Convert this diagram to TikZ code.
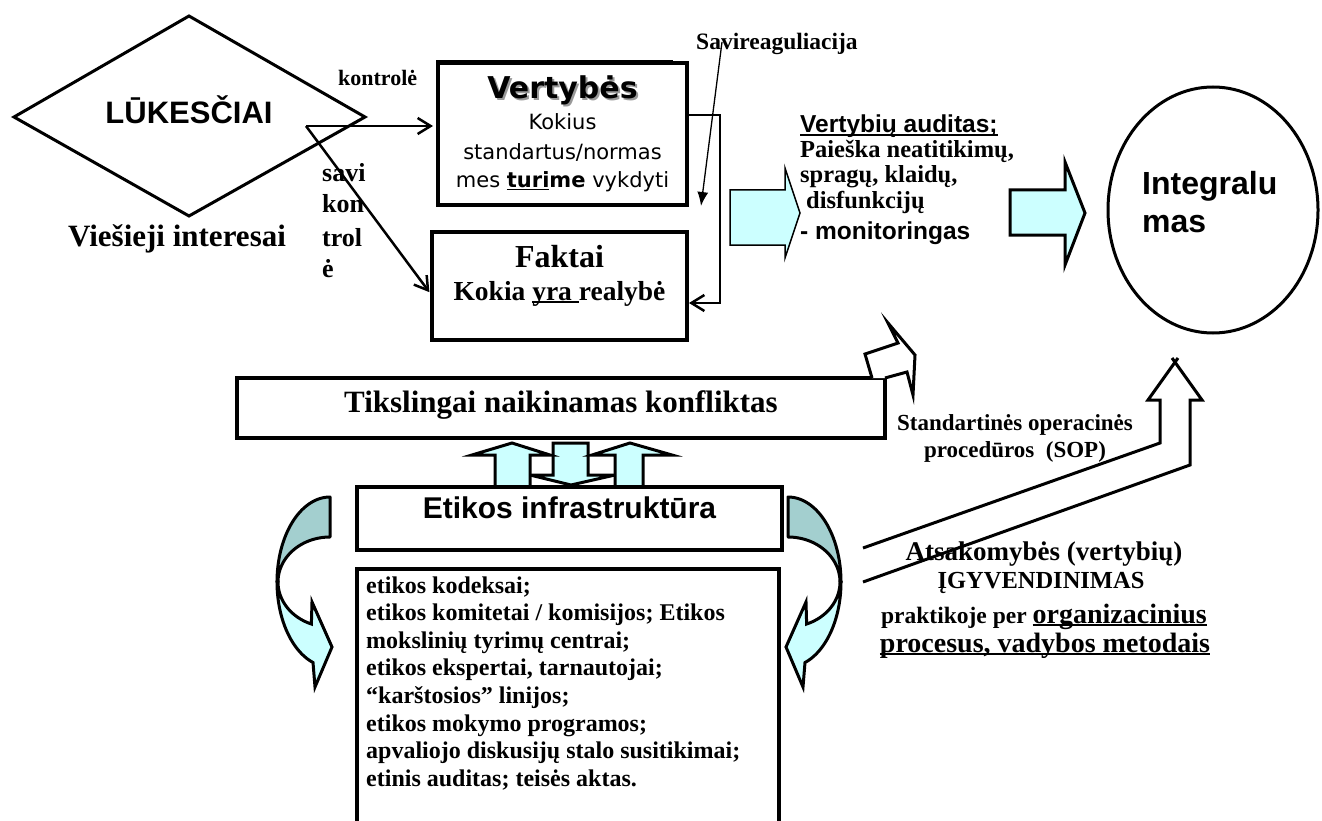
\documentclass[tikz,border=0pt]{standalone}
\usepackage{fontspec}
\setmainfont{Liberation Serif}
\newfontfamily\arialfont{Liberation Sans}
\newfontfamily\verdfont{DejaVu Sans}
\usetikzlibrary{arrows.meta,shapes.geometric}
\definecolor{pale}{HTML}{CCFFFF}
\definecolor{ribbon}{HTML}{A3CFCF}
\newcommand\fsz[1]{\fontsize{#1pt}{#1pt}\selectfont}
% thick underline scaled to the current font
\newcommand\ulb[1]{\setbox0=\hbox{#1}\rlap{\rule[-0.11em]{\wd0}{0.065em}}\box0}
% curved ribbon arrow (left-hand version; mirrored for the right side)
\newcommand\ribbonarrow{%
  \path[draw, fill=pale, line width=3pt, line join=miter]
    plot[domain=180:108.7, samples=40] ({330+53*cos(\x)},{582+85*sin(\x)})
    -- (315,687) -- (332,647) -- (312,602)
    -- plot[domain=111:180, samples=40] ({330+52*cos(\x)},{582+45*sin(\x)}) -- cycle;
  \path[draw, fill=ribbon, line width=3pt, line join=round]
    plot[domain=270:180, samples=40] ({330+53*cos(\x)},{582+85*sin(\x)})
    -- plot[domain=180:270, samples=40] ({330+52*cos(\x)},{582+45*sin(\x)}) -- cycle;
}

\begin{document}
\begin{tikzpicture}[x=1pt,y=-1pt,
  lbl/.style={inner sep=0pt, anchor=base},
  lblw/.style={inner sep=0pt, anchor=base west},
  box/.style={draw, line width=3.5pt, fill=white, inner sep=0pt},
  conn/.style={line width=2.5pt, -{Straight Barb[length=13pt,width=16pt]}},
  blockarrow/.style={draw, fill=pale, line width=3pt, line join=miter},
  outline/.style={draw, line width=3pt, line join=miter},
]
\useasboundingbox (0,0) rectangle (1322,821);

% ---- expectations diamond
\draw[outline] (14,117) -- (189,16) -- (365,117) -- (189,216) -- cycle;
\node[lbl, font=\arialfont\fsz{31}\bfseries] (luk) at (189,124) {LŪKESČIAI};
\node[lbl, font=\fsz{31}\bfseries] (vies) at (177,246) {Viešieji interesai};

% ---- values and facts
\node[box, line width=4pt, minimum width=249pt, minimum height=142pt] (vert) at (562.5,134) {};
\draw[line width=3pt] (436,61.5) -- (673,61.5);
\node[box, line width=4pt, minimum width=255pt, minimum height=108pt] (fakt) at (559.5,286) {};

\node[lbl, text=black!40, font=\verdfont\fsz{30}\bfseries] (vshadow) at (564.5,101) {Vertybės};
\node[lbl, font=\verdfont\fsz{30}\bfseries] (vtitle) at (562.5,99) {Vertybės};
\node[lbl, font=\verdfont\fsz{21}] (v1) at (562.5,130) {Kokius};
\node[lbl, font=\verdfont\fsz{21}] (v2) at (562.5,160) {standartus/normas};
\node[lbl, font=\verdfont\fsz{21}] (v3) at (562.5,188) {mes \textbf{\ulb{turi}me} vykdyti};

\node[lbl, font=\fsz{32}\bfseries] (f0) at (559.5,267) {Faktai};
\node[lbl, font=\fsz{27.5}\bfseries] (f1) at (559.5,300) {Kokia \ulb{yra\ }realybė};

% ---- control connectors
\coordinate (src) at (306,126);
\draw[conn, shorten >=3pt] (src) -- (src -| vert.west);
\draw[conn, shorten >=1pt] (src) -- ([yshift=-7pt]fakt.west);
\draw[conn] ([yshift=19pt]vert.east) -- ++(31,0) |- ([yshift=-17pt]fakt.east);

\node[lblw, font=\fsz{22}\bfseries] (kontr) at (338,86) {kontrolė};
\node[lblw, font=\fsz{26}\bfseries] (s1) at (322,182) {savi};
\node[lblw, font=\fsz{26}\bfseries] (s2) at (322,213) {kon};
\node[lblw, font=\fsz{26}\bfseries] (s3) at (322,246) {trol};
\node[lblw, font=\fsz{26}\bfseries] (s4) at (322,277) {ė};

% ---- self-regulation
\node[lblw, font=\fsz{23.5}\bfseries] (sreg) at (696,50) {Savireaguliacija};
\coordinate (srtop) at (722,42);
\coordinate (srtip) at (701,206);
\draw[line width=1.3pt, -{Latex[length=14pt,width=11pt]}] (srtop) -- (srtip);

% ---- audit arrow and text
\path[blockarrow, line width=1.5pt] (730,190) -- (785,190) -- (785,168) -- (800,213)
  -- (785,258) -- (785,245) -- (730,245) -- cycle;
\node[lblw, font=\arialfont\fsz{24.5}\bfseries] (aud0) at (800,133) {\ulb{Vertybių auditas;}};
\node[lblw, font=\fsz{24.5}\bfseries] (aud1) at (800,158) {Paieška neatitikimų,};
\node[lblw, font=\fsz{24.5}\bfseries] (aud2) at (800,183) {spragų, klaidų,};
\node[lblw, font=\fsz{24.5}\bfseries] (aud3) at (806,208) {disfunkcijų};
\node[lblw, font=\arialfont\fsz{24.5}\bfseries] (aud4) at (800,240) {- monitoringas};

\path[blockarrow] (1010,190) -- (1065,190) -- (1065,162) -- (1085,213)
  -- (1065,265) -- (1065,235) -- (1010,235) -- cycle;

% ---- integrity
\node[draw, ellipse, line width=3pt, minimum width=210pt, minimum height=246pt, inner sep=0pt] (integ) at (1213,210) {};
\node[lblw, font=\arialfont\fsz{32}\bfseries] (in1) at (1142,195) {Integralu};
\node[lblw, font=\arialfont\fsz{32}\bfseries] (in2) at (1142,233) {mas};

% ---- conflict box with SOP arrow
\node[box, minimum width=648pt, minimum height=60pt] (konf) at (561,408) {};
\node[lbl, font=\fsz{31}\bfseries] (konft) at (561,412) {Tikslingai naikinamas konfliktas};
\path[outline, fill=white] (872,378) -- (865,354) -- (898,343) -- (888,323) -- (915,355)
  -- (913,395) -- (907,372) -- (885,378);

\node[lbl, font=\fsz{23}\bfseries] (sop1) at (1015,430) {Standartinės operacinės};
\node[lbl, font=\fsz{23}\bfseries] (sop2) at (1015,457) {procedūros\ \ (SOP)};

% ---- implementation arrow towards integrity
\coordinate (impA) at (863,548);
\coordinate (impB) at (863,582);
\draw[outline] (impA) -- (1160,443) -- (1160,400) -- (1148,400) -- (1178,358);
\draw[outline] (impB) -- (1190,465) -- (1190,400) -- (1202,400) -- (1172,358);

\node[lbl, font=\fsz{27}\bfseries] (ats1) at (1044,560) {Atsakomybės (vertybių)};
\node[lbl, font=\fsz{24.5}\bfseries] (ats2) at (1041,588) {ĮGYVENDINIMAS};
\node[lbl, font=\bfseries] (ats3) at (1044,623) {\fsz{23.5}praktikoje per \fsz{28}\ulb{organizacinius}};
\node[lbl, font=\fsz{28}\bfseries] (ats4) at (1045,652) {\ulb{procesus, vadybos metodais}};

% ---- small two-way arrows between conflict and infrastructure
\path[blockarrow] (553,443) -- (588,443) -- (588,475) -- (615,475) -- (571,485)
  -- (530,475) -- (553,475) -- cycle;
\path[blockarrow] (495,487) -- (495,455) -- (472,455) -- (512,443) -- (550,455)
  -- (530,455) -- (530,487) -- cycle;
\path[blockarrow] (615,487) -- (615,455) -- (592,455) -- (630,443) -- (672,455)
  -- (643,455) -- (643,487) -- cycle;

% ---- ethics infrastructure
\node[box, minimum width=425pt, minimum height=63pt] (infra) at (569.5,518.5) {};
\node[lbl, font=\arialfont\fsz{30}\bfseries] (infrat) at (569.5,518) {Etikos infrastruktūra};

\node[box, minimum width=422pt, minimum height=280pt] (list) at (568,709) {};
\foreach \t [count=\i] in {{etikos kodeksai;},
  {etikos komitetai / komisijos; Etikos},
  {mokslinių tyrimų centrai;},
  {etikos ekspertai, tarnautojai;},
  {“karštosios” linijos;},
  {etikos mokymo programos;},
  {apvaliojo diskusijų stalo susitikimai;},
  {etinis auditas; teisės aktas.}}
  \node[lblw, font=\fsz{24}\bfseries] (li\i) at (366,{593+27.6*(\i-1)}) {\t};

% ---- curved ribbon arrows on both sides
\ribbonarrow
\begin{scope}[shift={(1118,0)}, xscale=-1]
  \ribbonarrow
\end{scope}
\end{tikzpicture}
\end{document}
